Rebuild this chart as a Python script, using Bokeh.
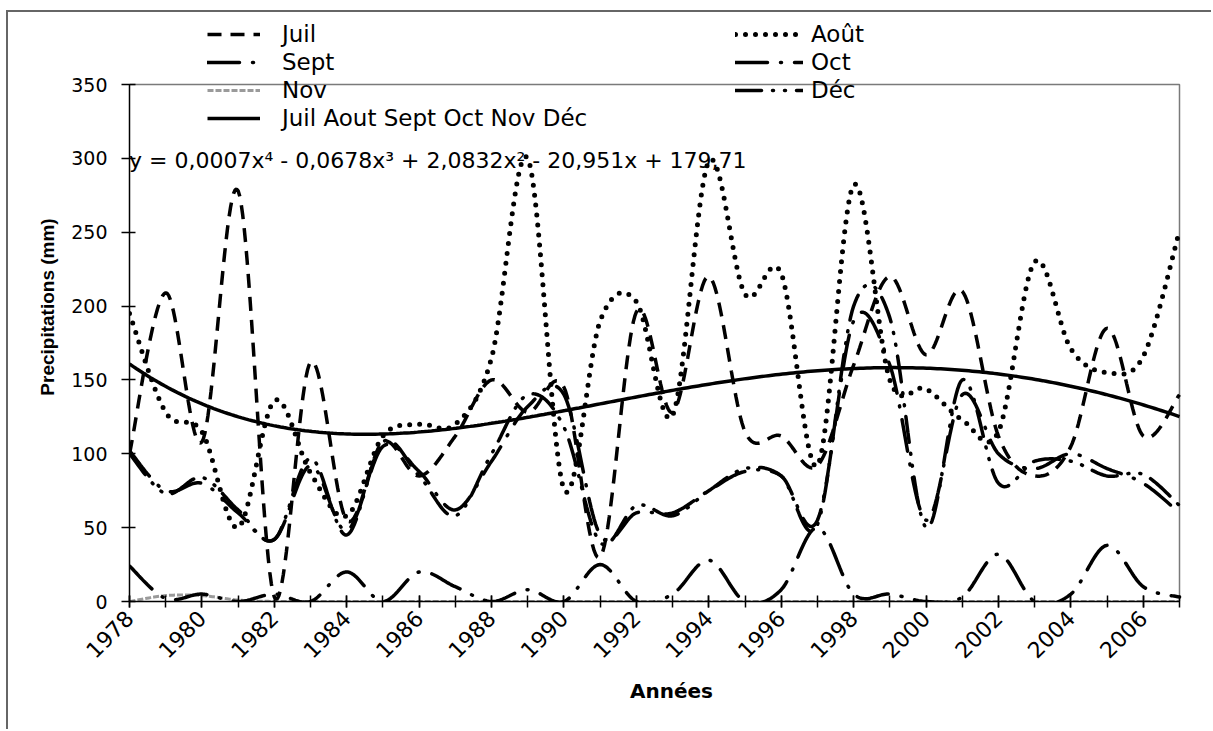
import numpy as np
from bokeh.plotting import figure
from bokeh.models import Range1d, FixedTicker, Legend, LegendItem, Title
from bokeh.embed import file_html
from bokeh.resources import INLINE

# ---- data (mm) ----
years = list(range(1978, 2008))
juil = [100, 209, 108, 278, 3, 162, 55, 108, 85, 112, 150, 128, 145, 30, 196,
        128, 220, 115, 112, 92, 160, 220, 167, 210, 112, 85, 105, 185, 112, 140]
aout = [195, 128, 115, 50, 136, 87, 58, 112, 120, 120, 165, 300, 76, 190, 203,
        126, 298, 208, 222, 92, 282, 150, 144, 123, 115, 230, 171, 155, 166, 251]
sept = [102, 75, 80, 60, 42, 92, 48, 105, 88, 62, 95, 132, 140, 45, 60,
        60, 75, 88, 85, 55, 190, 160, 55, 140, 100, 90, 100, 90, 80, 60]
octo = [24, 2, 5, 0, 5, 0, 20, 0, 20, 10, 0, 8, 0, 25, 0,
        5, 28, 0, 8, 50, 5, 5, 0, 3, 32, 0, 5, 38, 10, 3]
nov = [0, 4, 4, 1, 0, 0, 0, 0, 0, 0, 0, 0, 0, 0, 0,
       0, 0, 0, 0, 0, 0, 0, 0, 0, 0, 0, 0, 0, 0, 0]
dec = [100, 73, 84, 62, 42, 97, 45, 108, 85, 58, 100, 140, 118, 40, 65,
       58, 75, 90, 85, 52, 200, 192, 50, 150, 80, 95, 95, 85, 86, 65]

# polynomial trend (x = 1 for the first year), highest power first
trend_coeffs = [0.000654, -0.0678, 2.0832, -20.951, 179.71]

y_ticks = [0, 50, 100, 150, 200, 250, 300, 350]
x_label_years = list(range(1978, 2007, 2))

FONT = "DejaVu Sans"
Y_MAX = 350
# the drawing area continues above the value axis (legend room) and to the right
Y_END = Y_MAX * 589 / 517
X_END = 2007 + 34 / (1050 / 29)


def smooth(xs, ys, n=24):
    """Smoothed line through the points (cubic Bezier, Catmull-Rom tangents)."""
    x = np.asarray(xs, float)
    y = np.asarray(ys, float)
    px = np.concatenate([[x[0]], x, [x[-1]]])
    py = np.concatenate([[y[0]], y, [y[-1]]])
    ox, oy = [], []
    for i in range(len(x) - 1):
        x0, x1, x2, x3 = px[i:i + 4]
        y0, y1, y2, y3 = py[i:i + 4]
        cx1, cy1 = x1 + (x2 - x0) / 6, y1 + (y2 - y0) / 6
        cx2, cy2 = x2 - (x3 - x1) / 6, y2 - (y3 - y1) / 6
        t = np.linspace(0, 1, n, endpoint=(i == len(x) - 2))
        a, b, c, d = (1 - t) ** 3, 3 * (1 - t) ** 2 * t, 3 * (1 - t) * t ** 2, t ** 3
        ox.extend(a * x1 + b * cx1 + c * cx2 + d * x2)
        oy.extend(a * y1 + b * cy1 + c * cy2 + d * y2)
    return ox, oy


# chart area framed on the left and top by a grey rule
p = figure(width=1205, height=719, output_backend="svg", toolbar_location=None,
           x_range=Range1d(years[0], X_END), y_range=Range1d(0, Y_END),
           min_border_left=121, min_border_right=0, min_border_top=0,
           min_border_bottom=130,
           styles={"margin-left": "6px", "margin-top": "10px",
                   "border-left": "2px solid #666666",
                   "border-top": "2px solid #666666"})
p.background_fill_color = "white"
p.border_fill_color = "white"
p.outline_line_color = None
p.xgrid.visible = False
p.ygrid.visible = False

# plot-area border (top and right)
p.line([years[0], years[-1], years[-1]], [Y_MAX, Y_MAX, 0],
       line_color="#7a7a7a", line_width=1.5)

# axes
p.yaxis.ticker = FixedTicker(ticks=y_ticks)
p.yaxis.bounds = (0, Y_MAX)
p.yaxis.major_tick_in = 6
p.yaxis.major_tick_out = 8
p.xaxis.ticker = FixedTicker(ticks=x_label_years, minor_ticks=years)
p.xaxis.bounds = (years[0], years[-1])
p.xaxis.major_tick_in = 6
p.xaxis.major_tick_out = 6
p.xaxis.minor_tick_in = 6
p.xaxis.minor_tick_out = 6
p.xaxis.major_label_orientation = np.pi / 4
for ax in (p.xaxis[0], p.yaxis[0]):
    ax.axis_line_color = "black"
    ax.axis_line_width = 1.5
    ax.major_tick_line_color = "black"
    ax.major_tick_line_width = 1.5
    ax.minor_tick_line_width = 1.5
    ax.major_label_text_font = FONT
    ax.major_label_text_color = "black"
p.yaxis.minor_tick_line_color = None
p.xaxis.minor_tick_line_color = "black"
p.yaxis.major_label_text_font_size = "19px"
p.xaxis.major_label_text_font_size = "22px"
p.yaxis.major_label_standoff = 14
p.xaxis.major_label_standoff = 7
p.yaxis.axis_label = "Precipitations (mm)"
p.yaxis.axis_label_text_font = "Liberation Sans"
p.yaxis.axis_label_text_font_size = "19px"
p.yaxis.axis_label_text_font_style = "bold"
p.yaxis.axis_label_text_color = "black"
p.yaxis.axis_label_standoff = 10

p.add_layout(Title(text="Années", align="center", offset=21, standoff=16,
                   text_font=FONT, text_font_size="20px",
                   text_font_style="bold", text_color="black"), "below")


# series
def line(vals, **kw):
    sx, sy = smooth(years, vals)
    return p.line(sx, sy, **kw)


r_nov = line(nov, line_color="#9a9a9a", line_width=3, line_dash="6 2")
r_oct = line(octo, line_color="black", line_width=3.5, line_dash="32 13 1 13",
             line_cap="round")
r_sept = line(sept, line_color="black", line_width=3.5,
              line_dash="32 13 1 13", line_cap="round")
r_dec = line(dec, line_color="black", line_width=3.5,
             line_dash="26 11 1 11 1 11", line_cap="round")
r_juil = line(juil, line_color="black", line_width=3.5, line_dash="14 9")
r_aout = line(aout, line_color="black", line_width=5, line_dash="0 10",
              line_cap="round")

tx = np.linspace(1, len(years), 300)
r_trend = p.line(tx + years[0] - 1, np.polyval(trend_coeffs, tx),
                 line_color="black", line_width=3.5)

# invisible renderer used by the text-only legend row
r_blank = p.line([years[0]], [0], line_alpha=0)


def fmt(v, d):
    return f"{abs(v):.{d}f}".replace(".", ",")


def sgn(v):
    return "-" if v < 0 else "+"


a4, a3, a2, a1, a0 = trend_coeffs
eq = (f"y = {fmt(a4, 4)}x\u2074 {sgn(a3)} {fmt(a3, 4)}x\u00b3 "
      f"{sgn(a2)} {fmt(a2, 4)}x\u00b2 {sgn(a1)} {fmt(a1, 3)}x "
      f"{sgn(a0)} {fmt(a0, 2)}")


def make_legend(items, loc, gw, standoff, size="23px"):
    lg = Legend(items=items, location=loc, glyph_width=gw, glyph_height=28,
                label_height=28, spacing=0, padding=0, margin=0,
                label_standoff=standoff, label_text_font=FONT,
                label_text_font_size=size, label_text_color="black",
                border_line_color=None, background_fill_alpha=0)
    p.add_layout(lg)


make_legend([LegendItem(label="Juil", renderers=[r_juil]),
             LegendItem(label="Sept", renderers=[r_sept]),
             LegendItem(label="Nov", renderers=[r_nov]),
             LegendItem(label="Juil Aout Sept Oct Nov Déc",
                        renderers=[r_trend])],
            (78, 469), 53, 22)
make_legend([LegendItem(label="Août", renderers=[r_aout]),
             LegendItem(label="Oct", renderers=[r_oct]),
             LegendItem(label="Déc", renderers=[r_dec])],
            (606, 497), 68, 8)

# trend equation
make_legend([LegendItem(label=eq, renderers=[r_blank])], (0, 427), 0, 0,
            size="22px")

open("out.html", "w").write(file_html(p, INLINE))
